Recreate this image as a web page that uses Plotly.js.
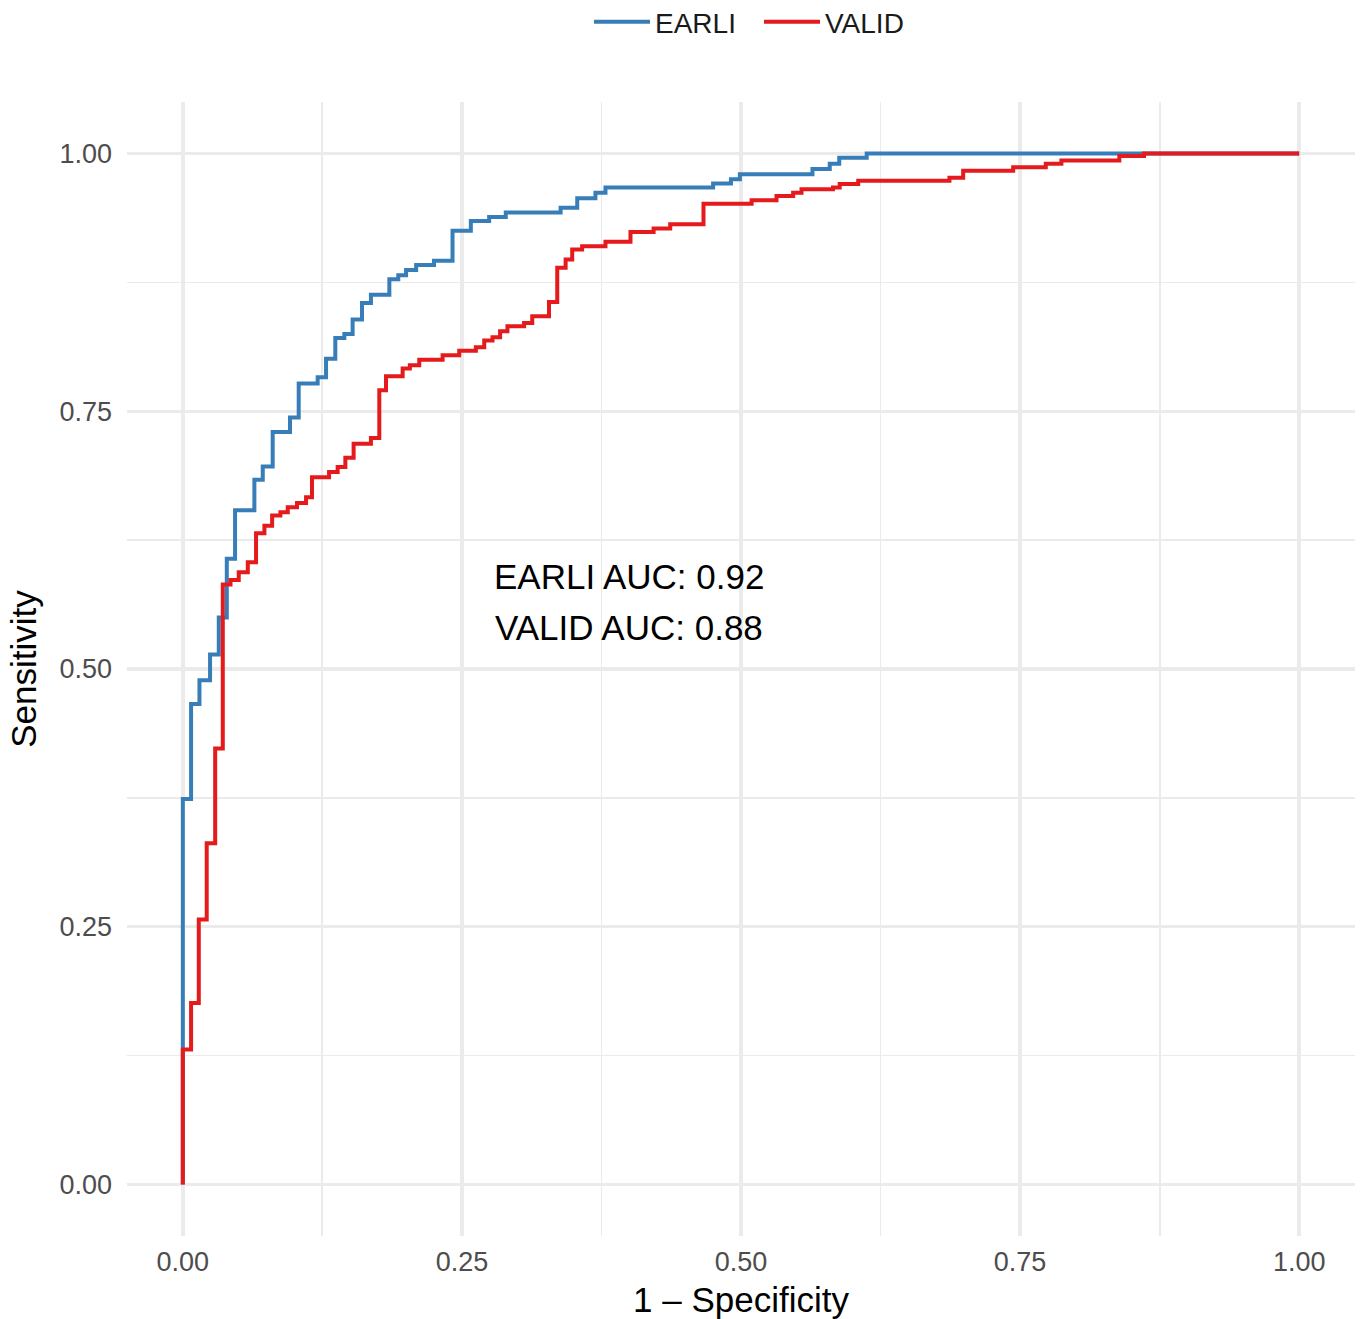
<!DOCTYPE html>
<html>
<head>
<meta charset="utf-8">
<script src="https://cdn.plot.ly/plotly-3.0.1.min.js"></script>
<style>html,body{margin:0;padding:0;background:#fff;}#chart{width:1361px;height:1319px;}</style>
</head>
<body>
<div id="chart"></div>
<script>
// EARLI ROC curve: 1 - specificity (riser x) and sensitivity (riser top)
const earliFpr = [0,0,0.0074,0.0149,0.0244,0.0322,0.0394,0.0468,0.0641,0.0716,0.0805,0.096,0.1038,0.1208,0.1283,0.1366,0.1447,0.1521,0.1605,0.1685,0.185,0.193,0.200,0.209,0.225,0.2416,0.258,0.2744,0.2893,0.3384,0.3533,0.3696,0.3786,0.475,0.491,0.499,0.564,0.5795,0.588,0.6126,1];
const earliTpr = [0,0.374,0.466,0.489,0.514,0.550,0.607,0.654,0.6835,0.6965,0.730,0.744,0.777,0.783,0.801,0.821,0.825,0.839,0.855,0.863,0.878,0.882,0.887,0.892,0.896,0.925,0.9346,0.9384,0.9427,0.9475,0.9566,0.962,0.967,0.971,0.975,0.980,0.985,0.990,0.996,1.0,1.0];

// VALID ROC curve
const validFpr = [0,0,0.0074,0.0143,0.0214,0.029,0.0358,0.0427,0.0501,0.0582,0.0656,0.0731,0.080,0.0874,0.094,0.1023,0.1104,0.1157,0.131,0.1387,0.1456,0.153,0.1685,0.176,0.182,0.1969,0.2034,0.2118,0.2327,0.2476,0.2625,0.270,0.2774,0.2842,0.2908,0.3057,0.313,0.328,0.3354,0.3429,0.3488,0.3577,0.3786,0.401,0.4217,0.4366,0.4664,0.5095,0.5318,0.5467,0.5542,0.5824,0.5884,0.605,0.6867,0.699,0.7438,0.773,0.787,0.8389,0.861,1];
const validTpr = [0,0.131,0.176,0.257,0.331,0.423,0.582,0.5863,0.5938,0.6035,0.6317,0.639,0.649,0.652,0.657,0.661,0.6667,0.686,0.691,0.696,0.705,0.7185,0.724,0.7703,0.784,0.7914,0.7946,0.800,0.8044,0.8086,0.812,0.8186,0.8218,0.8276,0.8325,0.8357,0.8422,0.8561,0.8892,0.8973,0.907,0.910,0.9145,0.924,0.9274,0.9313,0.9514,0.9546,0.9588,0.962,0.9653,0.967,0.9705,0.9735,0.9766,0.9833,0.9866,0.990,0.9933,0.9977,1.0,1.0];

const seriesNames = ["EARLI", "VALID"];
const aucLabels = ["EARLI AUC: 0.92", "VALID AUC: 0.88"];
const tickVals = [0, 0.25, 0.5, 0.75, 1];
const tickText = ["0.00", "0.25", "0.50", "0.75", "1.00"];

const FONT = "Liberation Sans, Arial, Helvetica, sans-serif";

const traces = [
  {x: earliFpr, y: earliTpr, name: seriesNames[0], mode: "lines",
   line: {shape: "hv", color: "#377EB8", width: 4}},
  {x: validFpr, y: validTpr, name: seriesNames[1], mode: "lines",
   line: {shape: "hv", color: "#E41A1C", width: 4}}
];

const axisCommon = {
  range: [-0.05, 1.05],
  tickvals: tickVals,
  ticktext: tickText,
  showgrid: true,
  gridcolor: "#ebebeb",
  gridwidth: 3.5,
  zeroline: false,
  showline: false,
  ticks: "",
  tickfont: {family: FONT, size: 27, color: "#4d4d4d"},
  minor: {tick0: 0, dtick: 0.125, showgrid: true, gridcolor: "#ebebeb", gridwidth: 1.8}
};

const layout = {
  width: 1361, height: 1319,
  margin: {l: 127, r: 6, t: 102, b: 83},
  paper_bgcolor: "#fff", plot_bgcolor: "#fff",
  showlegend: true,
  legend: {orientation: "h", x: 589/1361, xanchor: "left", xref: "container",
           y: 1 - 22/1319, yanchor: "middle", yref: "container",
           itemwidth: 56, entrywidth: 99,
           font: {family: FONT, size: 28, color: "#1a1a1a"}},
  xaxis: Object.assign({}, axisCommon, {
    title: {text: "1 \u2013 Specificity", font: {family: FONT, size: 35, color: "#000"}, standoff: 12},
    ticklabelstandoff: 7
  }),
  yaxis: Object.assign({}, axisCommon, {
    title: {text: "Sensitivity", font: {family: FONT, size: 35, color: "#000"}, standoff: 12},
    ticklabelstandoff: 14
  }),
  annotations: [
    {x: 0.4, y: 0.5897, xref: "x", yref: "y", text: aucLabels[0], showarrow: false,
     xanchor: "center", yanchor: "middle", font: {family: FONT, size: 35, color: "#000"}},
    {x: 0.4, y: 0.540, xref: "x", yref: "y", text: aucLabels[1], showarrow: false,
     xanchor: "center", yanchor: "middle", font: {family: FONT, size: 35, color: "#000"}}
  ]
};

Plotly.newPlot("chart", traces, layout, {displayModeBar: false, staticPlot: true});
</script>
</body>
</html>
